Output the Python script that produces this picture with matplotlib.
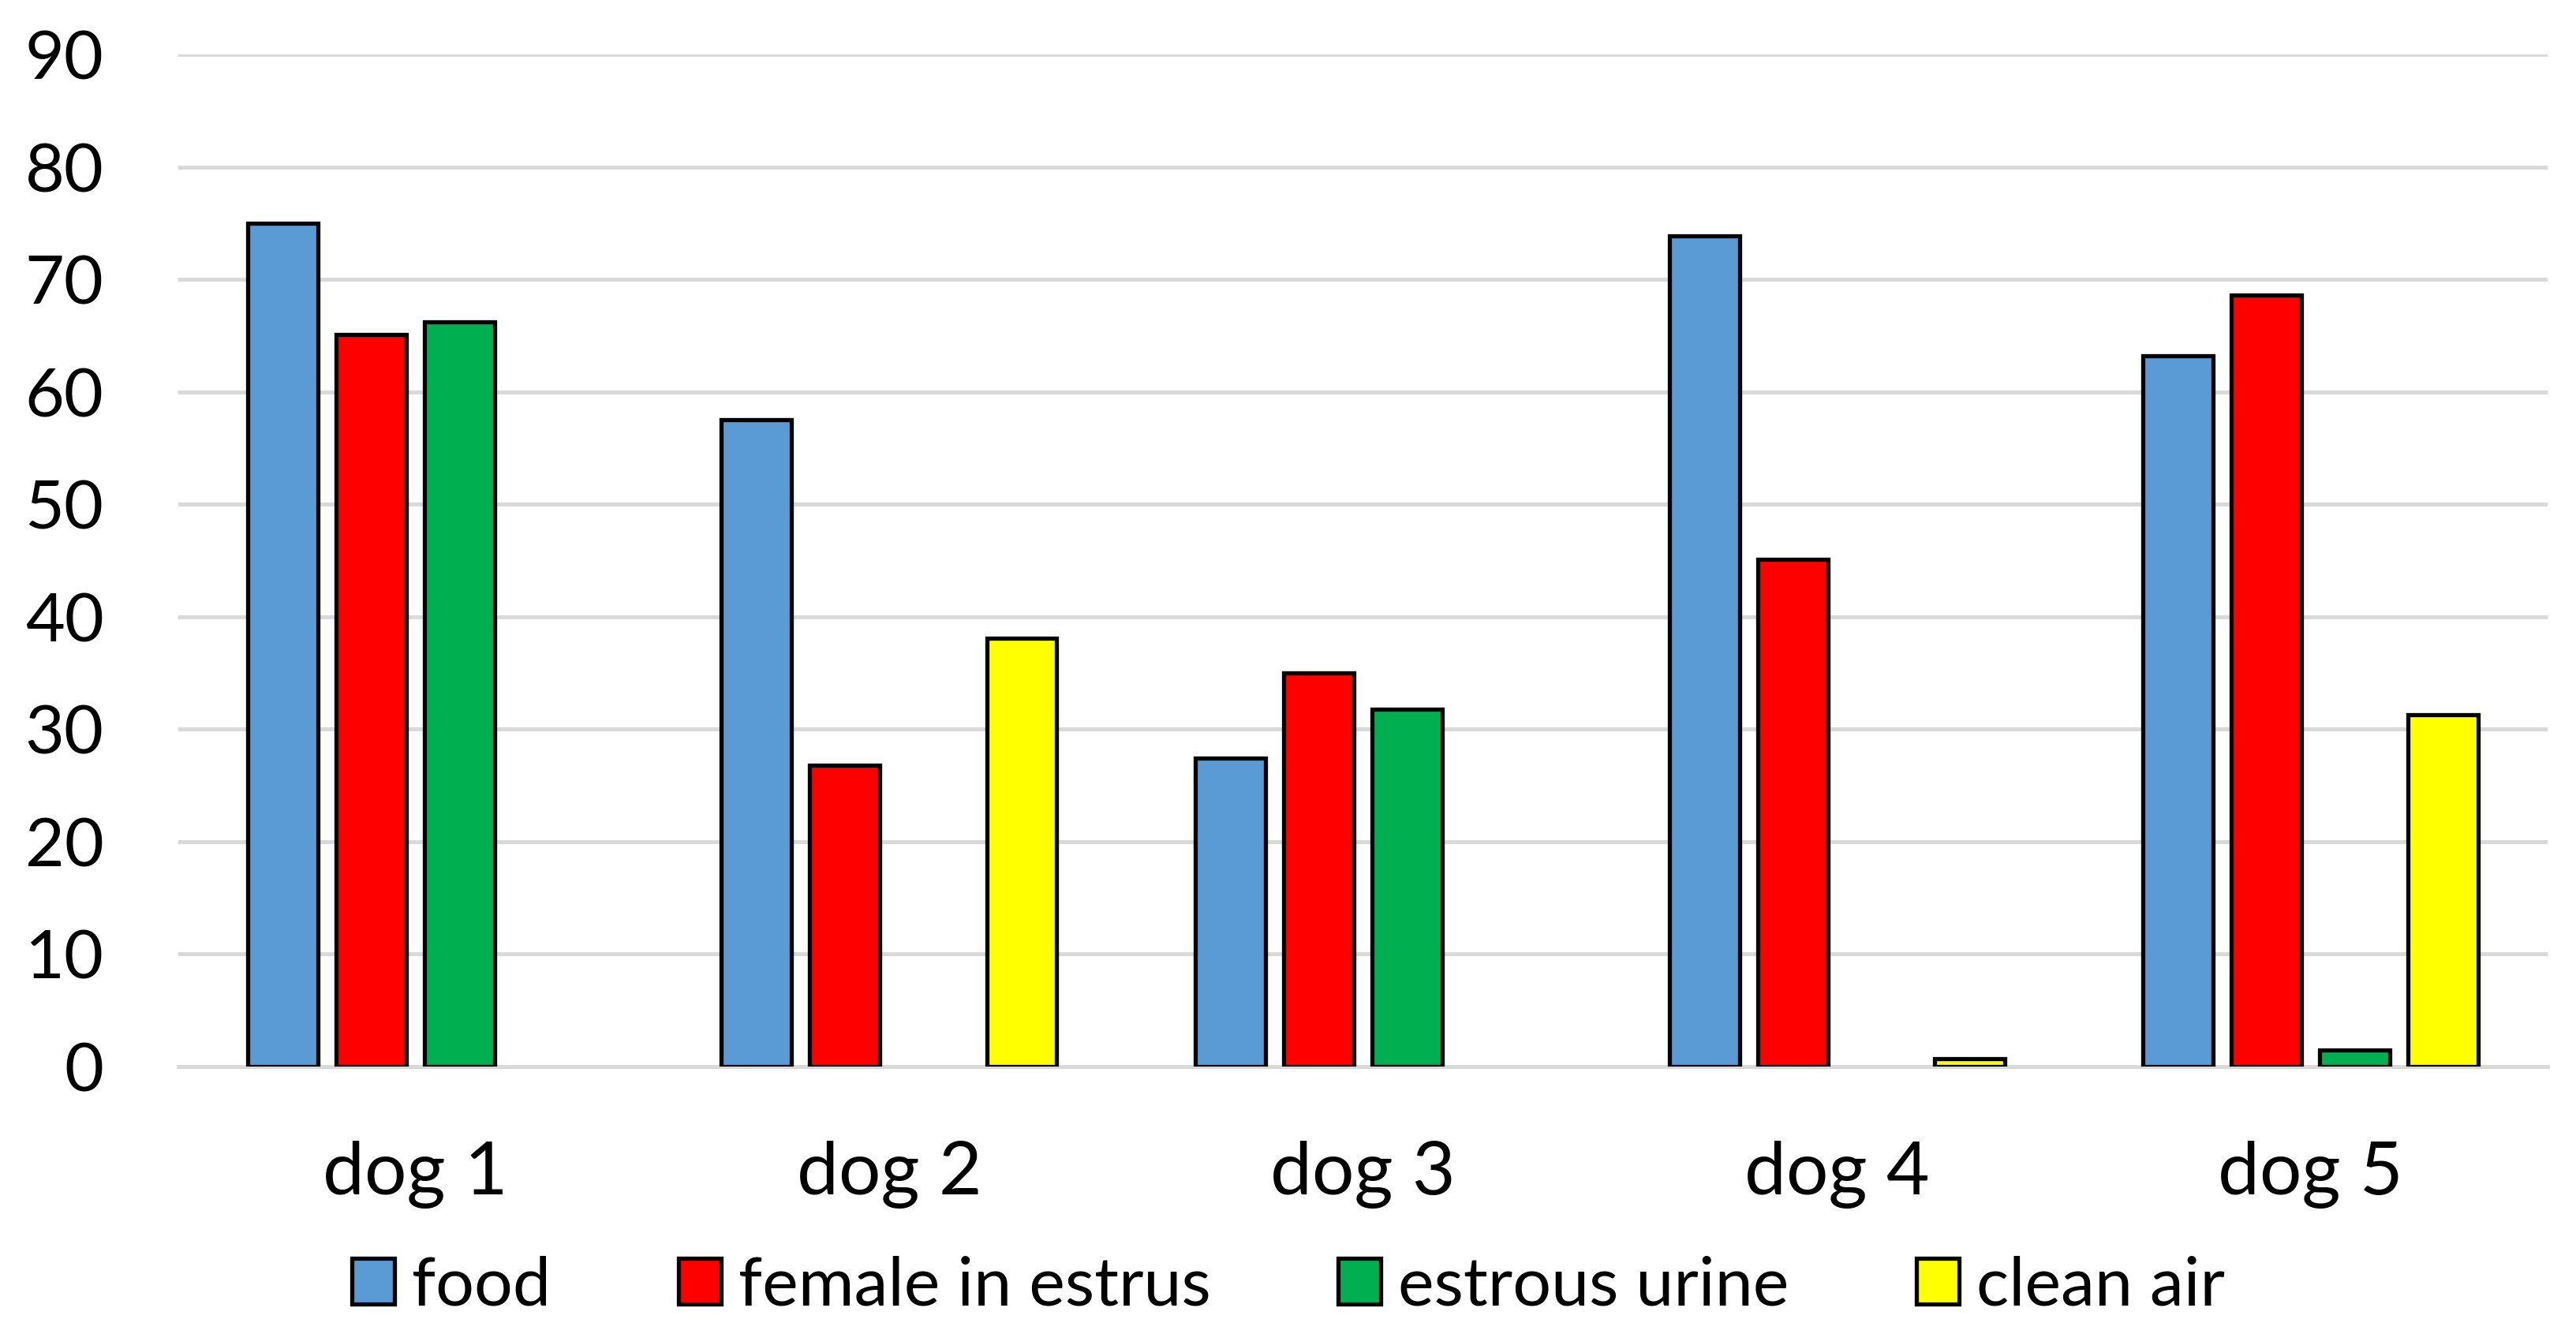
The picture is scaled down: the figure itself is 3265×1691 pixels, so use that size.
import numpy as np
import matplotlib
matplotlib.use('Agg')
import matplotlib.pyplot as plt

plt.rcParams['font.family'] = ['Lato', 'DejaVu Sans']

# Data (blank = no bar)
dogs = ['dog 1', 'dog 2', 'dog 3', 'dog 4', 'dog 5']
food = [75.0, 57.5, 27.4, 73.9, 63.2]
female = [65.1, 26.8, 35.0, 45.1, 68.6]
urine = [66.2, np.nan, 31.8, np.nan, 1.5]
clean_air = [np.nan, 38.1, np.nan, 0.7, 31.3]

series = [food, female, urine, clean_air]
labels = ['food', 'female in estrus', 'estrous urine', 'clean air']
colors = ['#5B9BD5', '#FF0000', '#00B050', '#FFFF00']

fig = plt.figure(figsize=(16.33, 8.455), dpi=200)
ax = fig.add_axes([0.0692, 0.2005, 0.9195, 0.7587])

x = np.arange(len(dogs))
pitch = 0.1865
width = 0.148
for i, (vals, lab, col) in enumerate(zip(series, labels, colors)):
    ax.bar(x + (i - 1.5) * pitch, vals, width, color=col, edgecolor='black',
           linewidth=1.9, label=lab, zorder=3)

ax.set_xlim(-0.5, 4.5)
ax.set_ylim(0, 90)
ax.set_yticks(np.arange(0, 91, 10))
ax.set_xticks(x)
ax.set_xticklabels(dogs)
ax.yaxis.grid(True, color='#D9D9D9', linewidth=1.8, zorder=0)
ax.set_axisbelow(True)
for s in ['top', 'right', 'left']:
    ax.spines[s].set_visible(False)
ax.spines['bottom'].set_color('#D9D9D9')
ax.spines['bottom'].set_linewidth(1.8)
ax.tick_params(axis='y', length=0, pad=34, labelsize=31)
ax.tick_params(axis='x', length=0, pad=34, labelsize=34)

fig.legend(loc='center', bbox_to_anchor=(0.5, 0.036), ncol=4, frameon=False,
           fontsize=31, handlelength=0.63, handleheight=0.67,
           handletextpad=0.25, columnspacing=1.88)

fig.savefig('out.png', dpi=200)
